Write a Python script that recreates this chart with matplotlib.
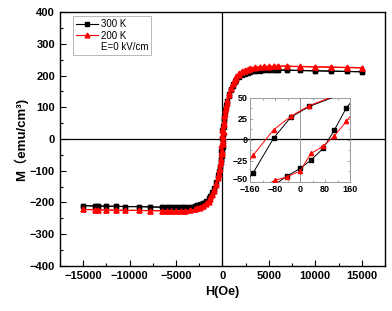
import matplotlib
matplotlib.use("Agg")
import matplotlib.pyplot as plt
import matplotlib.transforms as mtransforms
from matplotlib.ticker import MultipleLocator

plt.rcParams['font.family'] = ['Liberation Sans', 'Noto Sans CJK SC', 'DejaVu Sans']

# descending branch (+H -> -H)
h_down = [15000, 13400, 11700, 10000, 8300, 7000, 6000, 5500, 5000, 4500, 4000,
          3500, 3000, 2700, 2400, 2100, 1800, 1500, 1300, 1100, 900, 700, 500,
          400, 300, 200, 150, 30, -30, -85, -150, -200, -300, -400, -500, -700,
          -900, -1100, -1300, -1500, -1800, -2100, -2400, -2700, -3000, -3500,
          -4000, -4500, -5000, -5500, -6000, -6500, -7800, -9000, -10500,
          -11500, -12500, -13400, -13700, -15000]
m300_down = [212, 213, 214, 215, 216, 217, 218, 218, 218, 217, 216,
             215, 213, 211, 208, 204, 198, 190, 182, 172, 159, 142, 120,
             106, 91, 70, 57, 40, 27, 2, -39, -62, -84, -100, -114, -137,
             -154, -168, -179, -187, -196, -202, -206, -209, -211, -213,
             -214, -215, -215, -215, -215, -215, -214, -213, -213,
             -212, -212, -211, -211, -210]
m200_down = [224, 225, 226, 227, 228, 229, 230, 230, 230, 229, 228,
             227, 225, 222, 219, 214, 207, 198, 189, 178, 164, 146, 123,
             108, 92, 71, 58, 41, 28, 12, -18, -45, -78, -98, -113, -138,
             -157, -172, -184, -193, -203, -210, -215, -219, -222, -224,
             -226, -227, -227, -227, -227, -226, -226, -225, -225,
             -224, -224, -223, -223, -222]

# ascending branch (-H -> +H)
h_up = [-15000, -13700, -13400, -12500, -11500, -10500, -9000, -7800, -6500,
        -6000, -5500, -5000, -4500, -4000, -3500, -3000, -2700, -2400, -2100,
        -1800, -1500, -1300, -1100, -900, -700, -500, -400, -300, -200, -150,
        -80, -42, 0, 35, 74, 110, 148, 200, 300, 400, 500, 700, 900, 1100,
        1300, 1500, 1800, 2100, 2400, 2700, 3000, 3500, 4000, 4500, 5000,
        5500, 6000, 7000, 8300, 10000, 11700, 13400, 15000]
m300_up = [-210, -211, -211, -212, -212, -213, -213, -214, -215,
           -215, -215, -215, -215, -214, -213, -211, -209, -207, -203,
           -198, -190, -182, -172, -160, -143, -122, -108, -92, -72, -62,
           -53, -43, -34, -24, -10, 12, 38, 62, 84, 100, 114, 137, 154, 168,
           179, 187, 196, 202, 206, 209, 211, 213, 215, 216, 217,
           217, 217, 217, 216, 215, 214, 213, 212]
m200_up = [-222, -223, -223, -224, -224, -225, -225, -226, -226,
           -227, -227, -227, -227, -226, -224, -222, -219, -216, -211,
           -205, -197, -188, -177, -163, -146, -124, -110, -94, -74, -62,
           -48, -44, -37, -16, -7.5, 5, 22, 48, 78, 98, 113, 138, 157, 172,
           184, 193, 203, 210, 215, 219, 222, 224, 226, 227, 228,
           229, 230, 230, 229, 228, 227, 226, 225]


def draw(ax, ms, lw):
    ax.plot(h_down, m300_down, color='black', marker='s', markersize=ms,
            linewidth=lw, label='300 K', zorder=3)
    ax.plot(h_up, m300_up, color='black', marker='s', markersize=ms,
            linewidth=lw, zorder=3)
    ax.plot(h_down, m200_down, color='red', marker='^', markersize=ms,
            linewidth=lw, label='200 K', zorder=4)
    ax.plot(h_up, m200_up, color='red', marker='^', markersize=ms,
            linewidth=lw, zorder=4)


fig = plt.figure(figsize=(3.92, 3.11), dpi=100)
ax = fig.add_axes([0.153, 0.145, 0.829, 0.816])
draw(ax, 3.5, 0.8)
ax.axhline(0, color='black', linewidth=0.9, zorder=2)
ax.axvline(0, color='black', linewidth=0.9, zorder=2)
ax.set_xlim(-17500, 17500)
ax.set_ylim(-400, 400)
ax.xaxis.set_major_locator(MultipleLocator(5000))
ax.xaxis.set_minor_locator(MultipleLocator(2500))
ax.yaxis.set_major_locator(MultipleLocator(100))
ax.yaxis.set_minor_locator(MultipleLocator(50))
ax.tick_params(which='both', direction='in', labelsize=8, width=0.8)
ax.tick_params(which='major', length=4)
ax.tick_params(which='minor', length=2)
for lab in ax.get_xticklabels() + ax.get_yticklabels():
    lab.set_fontweight('bold')
for sp in ax.spines.values():
    sp.set_linewidth(1.0)
ax.set_xlabel('H(Oe)', fontsize=9, fontweight='bold', labelpad=4)
ax.set_ylabel('M（emu/cm³)', fontsize=9.5, fontweight='bold', labelpad=1)

ax.plot([], [], ' ', label='E=0 kV/cm')
leg = ax.legend(loc='upper left', bbox_to_anchor=(0.03, 0.995), fontsize=7,
                fancybox=False, edgecolor='#999999', handlelength=2.3,
                handletextpad=0.3, borderpad=0.3, labelspacing=0.15,
                borderaxespad=0.3)
leg.get_frame().set_linewidth(0.6)

# inset
ins = fig.add_axes([0.638, 0.415, 0.255, 0.270])
ins.patch.set_alpha(0)
draw(ins, 3, 0.7)
ins.axvline(0, color='#999999', linewidth=0.7, zorder=1)
ins.set_xlim(-160, 160)
ins.set_ylim(-50, 50)
ins.set_xticks([-160, -80, 0, 80, 160])
ins.set_yticks([-50, -25, 0, 25, 50])
ins.xaxis.set_minor_locator(MultipleLocator(40))
ins.yaxis.set_minor_locator(MultipleLocator(12.5))
ins.tick_params(which='both', direction='in', labelsize=6.5, width=0.5,
                color='#888888', top=True, right=True)
ins.tick_params(axis='x', pad=2.5)
ins.tick_params(axis='y', pad=2)
ins.tick_params(which='major', length=2.5)
ins.tick_params(which='minor', length=1.5)
for lab in ins.get_xticklabels() + ins.get_yticklabels():
    lab.set_fontweight('bold')
for sp in ins.spines.values():
    sp.set_color('#999999')
    sp.set_linewidth(0.7)

# nudge the bottom inset y label up so it clears "-160"
lift = mtransforms.ScaledTranslation(0, 2.5 / 72, fig.dpi_scale_trans)
low = ins.get_yticklabels()[0]
low.set_transform(low.get_transform() + lift)

fig.savefig('out.png', dpi=100)
